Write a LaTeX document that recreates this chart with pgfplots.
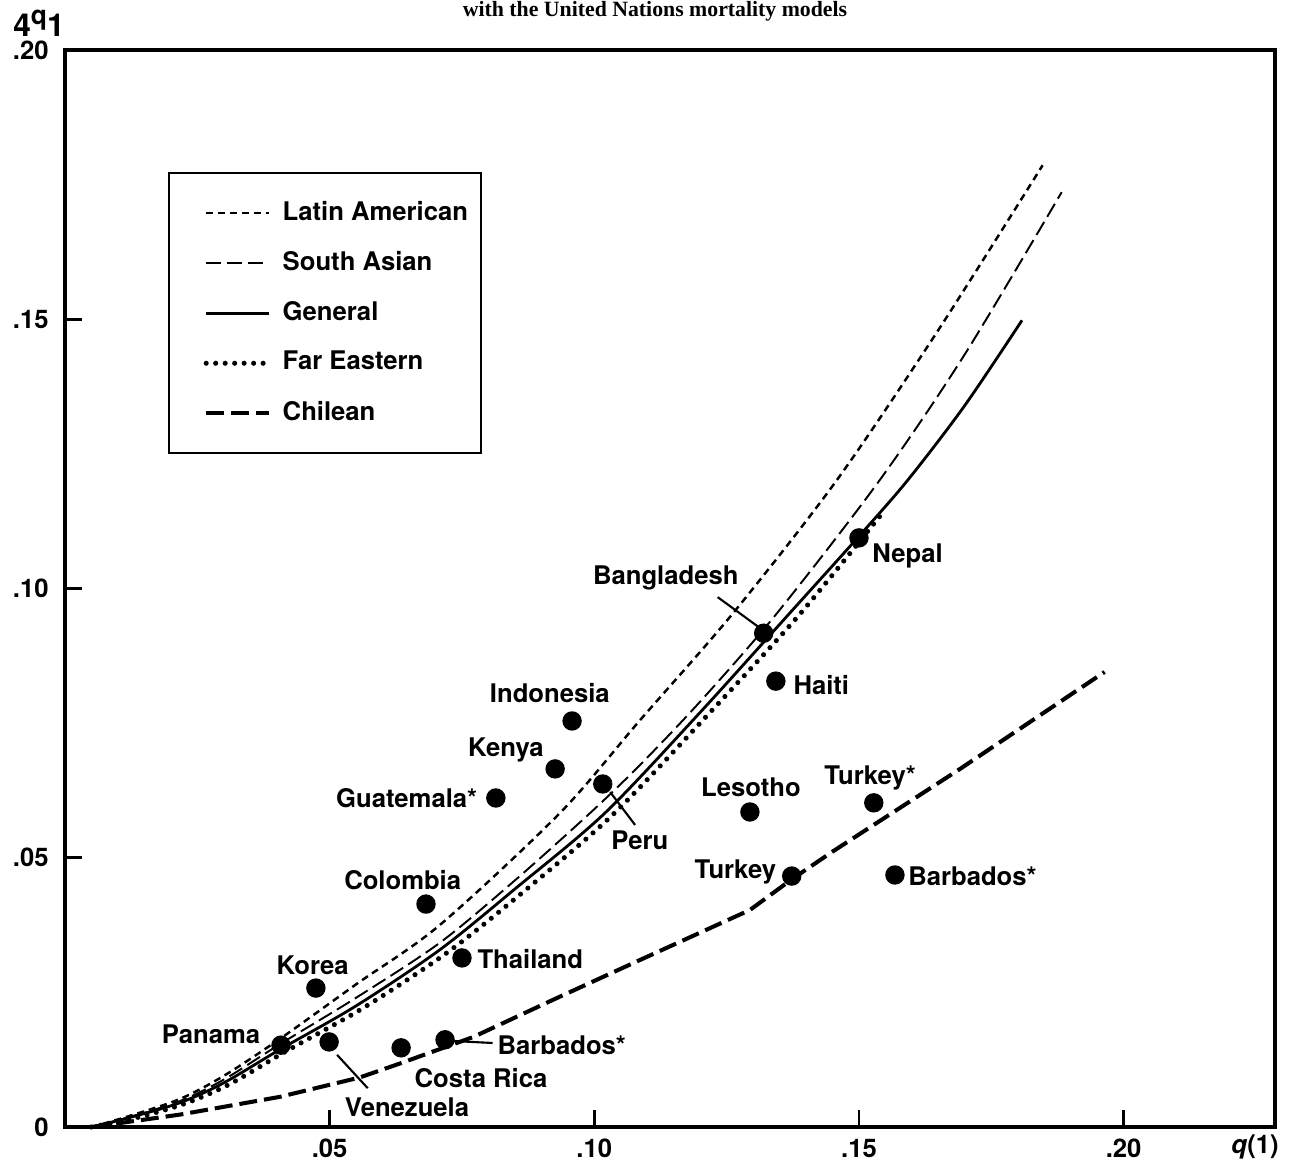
\documentclass[border=0pt]{standalone}
\usepackage{fontspec}
\setmainfont{TeX Gyre Heros}
\newfontfamily\titlefont{Liberation Serif}
\usepackage{pgfplots}
\pgfplotsset{compat=1.18}
\newcommand{\lf}{\fontsize{7.3}{8.5}\selectfont\bfseries}
\tikzset{lab/.style={font=\lf, inner sep=0pt}}
\begin{document}
\begin{tikzpicture}
\begin{axis}[
  scale only axis,
  width=121mm, height=107.7mm,
  xmin=0, xmax=0.2286, ymin=0, ymax=0.2,
  axis line style={line width=0.9pt},
  tick style={line width=0.8pt, black},
  tick align=inside, tick pos=left,
  major tick length=1.7mm,
  xtick={0.05,0.1,0.15,0.2}, xticklabels={.05,.10,.15,.20},
  ytick={0,0.05,0.1,0.15,0.2}, yticklabels={0,.05,.10,.15,.20},
  ticklabel style={font=\lf},
  yticklabel style={xshift=-0.4mm},
  clip=false,
  legend cell align=left,
  legend image code/.code={\path[draw=none,fill=none] (0mm,-1mm) rectangle (8.7mm,1mm); \draw[#1] (2.4mm,0mm) -- (8.7mm,0mm);},
  legend style={at={(0.0851,0.8867)}, anchor=north west, draw=black, line width=0.7pt,
    font=\lf, inner xsep=1.3mm, inner ysep=1.5mm,
    nodes={inner sep=0pt, minimum height=5mm},
    /tikz/every odd column/.append style={column sep=1.1mm},
    /tikz/every even column/.append style={column sep=0.5mm}},
]
% Latin American
\addplot[black, line width=0.7pt, dash pattern=on 2pt off 1.4pt, smooth] coordinates {
(0.005,0) (0.012,0.0020) (0.0217,0.0052) (0.03,0.0095) (0.0408,0.0165) (0.055,0.0265)
(0.0708,0.0375) (0.0935,0.0583) (0.1086,0.0755) (0.1262,0.0954) (0.1458,0.1201)
(0.165,0.1480) (0.1847,0.1786)};
\addlegendentry{Latin American}
% South Asian
\addplot[black, line width=0.55pt, dash pattern=on 4.3pt off 1.7pt, smooth] coordinates {
(0.005,0) (0.012,0.0018) (0.0217,0.0048) (0.03,0.0088) (0.0408,0.0155) (0.055,0.0240)
(0.0708,0.0342) (0.085,0.0458) (0.0992,0.0583) (0.1086,0.0672) (0.12,0.0790)
(0.1345,0.0954) (0.1539,0.1201) (0.17,0.1435) (0.1883,0.1736)};
\addlegendentry{South Asian}
% General
\addplot[black, line width=0.8pt, smooth] coordinates {
(0.005,0) (0.012,0.0017) (0.0217,0.0045) (0.03,0.0082) (0.0408,0.0145) (0.055,0.0225)
(0.0708,0.0329) (0.085,0.0442) (0.102,0.0583) (0.12,0.0770) (0.1369,0.0954)
(0.15,0.1097) (0.1592,0.1201) (0.17,0.1340) (0.1808,0.1498)};
\addlegendentry{General}
% Far Eastern
\addplot[black, line width=1.45pt, line cap=round, dash pattern=on 0pt off 2.7pt, smooth] coordinates {
(0.005,0) (0.013,0.0016) (0.0225,0.0043) (0.031,0.0079) (0.042,0.0142) (0.0565,0.0222)
(0.0725,0.0326) (0.087,0.0440) (0.1035,0.0580) (0.1215,0.0766) (0.1388,0.0952)
(0.1549,0.1146)};
\addlegendentry{Far Eastern}
% Chilean
\addplot[black, line width=1.15pt, dash pattern=on 5.1pt off 2pt] coordinates {
(0.005,0) (0.0123,0.0010) (0.0217,0.0023) (0.0406,0.0056) (0.0557,0.0092) (0.0633,0.0118)
(0.0771,0.0167) (0.0926,0.0238) (0.1086,0.0310) (0.1294,0.0403) (0.1373,0.0460)
(0.1451,0.0512) (0.1691,0.0665) (0.1964,0.0845)};
\addlegendentry{Chilean}
% countries
\addplot[only marks, mark=*, mark size=0.9mm, black, forget plot] coordinates {
(0.0408,0.0152) (0.0499,0.0158) (0.0635,0.0147) (0.0718,0.0162) (0.0474,0.0258)
(0.0750,0.0314) (0.0682,0.0414) (0.0814,0.0611) (0.0926,0.0665) (0.0958,0.0754)
(0.1016,0.0637) (0.1320,0.0917) (0.1343,0.0828) (0.1500,0.1094) (0.1294,0.0585)
(0.1528,0.0602) (0.1373,0.0466) (0.1568,0.0468)};
% labels
\node[lab] at (axis cs:0.0276,0.0173) {Panama};
\node[lab] at (axis cs:0.0468,0.0301) {Korea};
\node[lab] at (axis cs:0.0638,0.0459) {Colombia};
\node[lab, anchor=east] at (axis cs:0.0780,0.0611) {Guatemala*};
\node[lab] at (axis cs:0.0833,0.0700) {Kenya};
\node[lab] at (axis cs:0.0916,0.0806) {Indonesia};
\node[lab] at (axis cs:0.1135,0.1019) {Bangladesh};
\node[lab, anchor=west] at (axis cs:0.1524,0.1060) {Nepal};
\node[lab, anchor=west] at (axis cs:0.1375,0.0821) {Haiti};
\node[lab] at (axis cs:0.1086,0.0533) {Peru};
\node[lab] at (axis cs:0.1296,0.0631) {Lesotho};
\node[lab] at (axis cs:0.1521,0.0648) {Turkey*};
\node[lab, anchor=east] at (axis cs:0.1345,0.0473) {Turkey};
\node[lab, anchor=west] at (axis cs:0.1592,0.0466) {Barbados*};
\node[lab, anchor=west] at (axis cs:0.0778,0.0312) {Thailand};
\node[lab] at (axis cs:0.0786,0.0091) {Costa Rica};
\node[lab] at (axis cs:0.0646,0.0037) {Venezuela};
\node[lab, anchor=west] at (axis cs:0.0816,0.0152) {Barbados*};
% pointer lines
\draw[line width=0.6pt] (axis cs:0.1233,0.0984) -- (axis cs:0.1311,0.0928);
\draw[line width=0.6pt] (axis cs:0.1030,0.0622) -- (axis cs:0.1077,0.0561);
\draw[line width=0.6pt] (axis cs:0.0514,0.0134) -- (axis cs:0.0572,0.0072);
\draw[line width=0.6pt] (axis cs:0.0727,0.0160) -- (axis cs:0.0808,0.0156);
\end{axis}
\node[font=\titlefont\bfseries\fontsize{6.2}{7}\selectfont, anchor=base] at (59mm,111.1mm) {with the United Nations mortality models};
\node[font=\fontsize{9}{9}\selectfont\bfseries, inner sep=0pt] at (-2.6mm,110.4mm) {4\raisebox{0.7ex}{\fontsize{7.5}{7.5}\selectfont q}1};
\node[font=\lf] at (119mm,-2mm) {\textit{q}(1)};
\pgfresetboundingbox
\path[use as bounding box] (-6.5mm,-3.5mm) rectangle (123.3mm,112.7mm);
\end{tikzpicture}
\end{document}
